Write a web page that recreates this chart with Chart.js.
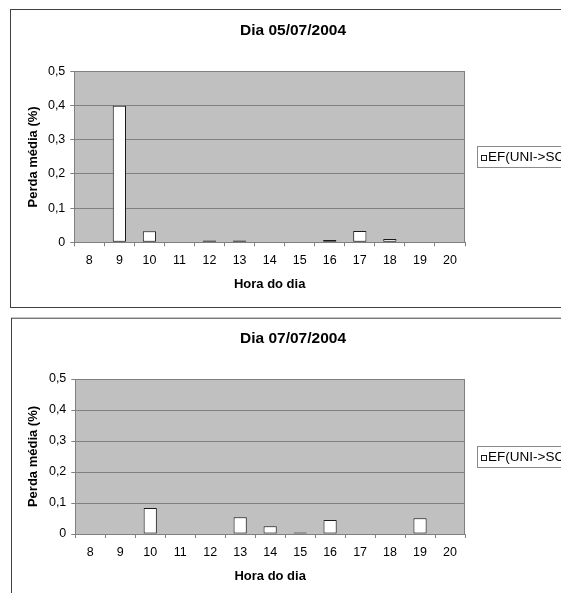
<!DOCTYPE html>
<html>
<head>
<meta charset="utf-8">
<script src="https://cdn.jsdelivr.net/npm/chart.js@4"></script>
<style>
  html, body { margin: 0; padding: 0; background: #fff; overflow: hidden; width: 561px; height: 593px; }
  canvas { position: absolute; left: 0; display: block; }
  #c1 { top: 0; }
  #c2 { top: 310px; }
</style>
</head>
<body>
<canvas id="c1" width="600" height="310"></canvas>
<canvas id="c2" width="600" height="300"></canvas>
<script>
// Hours of the day on the category axis
const hours = ['8', '9', '10', '11', '12', '13', '14', '15', '16', '17', '18', '19', '20'];

// Mean loss (%) per hour, 05/07/2004
const perda0507 = [0, 0.4, 0.032, 0, 0.005, 0.005, 0, 0, 0.007, 0.033, 0.01, 0, 0];

// Mean loss (%) per hour, 07/07/2004
const perda0707 = [0, 0, 0.084, 0, 0, 0.054, 0.025, 0.005, 0.045, 0, 0, 0.051, 0];

// Value axis labels (decimal comma)
const yTickLabels = ['0', '0,1', '0,2', '0,3', '0,4', '0,5'];

const seriesName = 'EF(UNI->SC)';
const chartTitles = ['Dia 05/07/2004', 'Dia 07/07/2004'];
const xAxisTitle = 'Hora do dia';
const yAxisTitle = 'Perda média (%)';

const FONT = "'Liberation Sans', Arial, sans-serif";

// Frame, plot-area fill/border and the boxed legend on the right
const excelLook = {
  id: 'excelLook',
  beforeDraw(chart, args, opts) {
    const ctx = chart.ctx;
    const a = chart.chartArea;
    ctx.save();
    ctx.fillStyle = '#ffffff';
    ctx.fillRect(0, 0, chart.width, chart.height);
    ctx.strokeStyle = '#404040';
    ctx.lineWidth = 1;
    ctx.strokeRect(opts.frameLeft + 0.5, opts.frameTop + 0.5, 1000, opts.frameHeight);
    ctx.fillStyle = '#c0c0c0';
    ctx.fillRect(a.left, a.top, a.right - a.left, a.bottom - a.top);
    ctx.restore();
  },
  afterDraw(chart) {
    const ctx = chart.ctx;
    const a = chart.chartArea;
    const ds = chart.data.datasets[0];
    ctx.save();
    ctx.strokeStyle = '#808080';
    ctx.lineWidth = 1;
    ctx.beginPath();
    ctx.moveTo(Math.round(a.right) - 0.5, a.top);
    ctx.lineTo(Math.round(a.right) - 0.5, a.bottom);
    ctx.stroke();

    // legend box
    const lh = 22;
    const lx = Math.round(a.right + 11.7);
    const cy = (a.top + a.bottom) / 2;
    const ly = Math.round(cy - lh / 2);
    ctx.strokeStyle = '#8a8a8a';
    ctx.strokeRect(lx + 0.5, ly + 0.5, 400, lh - 1);
    // marker
    ctx.fillStyle = ds.backgroundColor;
    ctx.fillRect(lx + 4, Math.round(cy) - 2, 6, 6);
    ctx.strokeStyle = ds.borderColor;
    ctx.strokeRect(lx + 4.5, Math.round(cy) - 1.5, 5, 5);
    // label
    ctx.fillStyle = '#000';
    ctx.font = '13.5px ' + FONT;
    ctx.textAlign = 'left';
    ctx.textBaseline = 'middle';
    ctx.fillText(ds.label, lx + 11, cy + 0.5);
    ctx.restore();
  }
};

function makeChart(id, title, values, g) {
  return new Chart(document.getElementById(id), {
    type: 'bar',
    data: {
      labels: hours,
      datasets: [{
        label: seriesName,
        data: values,
        backgroundColor: '#ffffff',
        borderColor: '#1a1a1a',
        borderWidth: c => (c.raw > 0 ? 1 : 0),
        borderSkipped: false,
        categoryPercentage: 1,
        barPercentage: 0.44
      }]
    },
    options: {
      responsive: false,
      animation: false,
      layout: { padding: { left: 0, right: 14, top: 0, bottom: g.padBottom } },
      plugins: {
        legend: { display: false },
        tooltip: { enabled: false },
        title: {
          display: true,
          text: title,
          color: '#000',
          font: { family: FONT, size: 15.5, weight: 'bold' },
          padding: { top: g.titleTop, bottom: g.titleBottom }
        },
        excelLook: { frameLeft: g.frameLeft, frameTop: g.frameTop, frameHeight: g.frameHeight }
      },
      scales: {
        x: {
          type: 'category',
          offset: true,
          grid: {
            offset: true,
            drawOnChartArea: false,
            drawTicks: true,
            tickLength: 4,
            color: '#808080'
          },
          border: { display: true, color: '#808080' },
          ticks: {
            color: '#000',
            padding: g.xTickPad,
            maxRotation: 0,
            autoSkip: false,
            font: { family: FONT, size: 12.5 }
          },
          title: {
            display: true,
            text: xAxisTitle,
            color: '#000',
            font: { family: FONT, size: 13, weight: 'bold' },
            padding: { top: 0, bottom: g.xTitlePad }
          },
          afterFit: s => { s.height = 60; }
        },
        y: {
          type: 'linear',
          min: 0,
          max: 0.5,
          ticks: {
            stepSize: 0.1,
            color: '#000',
            padding: 5,
            font: { family: FONT, size: 12.5 },
            callback: (v, i) => yTickLabels[i]
          },
          grid: { color: '#808080', tickLength: 4, drawTicks: true },
          border: { display: true, color: '#808080' },
          title: {
            display: true,
            text: yAxisTitle,
            color: '#000',
            font: { family: FONT, size: 13, weight: 'bold' },
            padding: { top: g.yTitlePad, bottom: 0 }
          },
          afterFit: s => { s.width = g.plotLeft; }
        },
        legendArea: {
          type: 'linear',
          position: 'right',
          display: true,
          grid: { display: false },
          border: { display: false },
          ticks: { display: false },
          afterFit: s => { s.width = 121; }
        }
      }
    },
    plugins: [excelLook]
  });
}

makeChart('c1', chartTitles[0], perda0507, {
  frameLeft: 10, frameTop: 9, frameHeight: 298,
  plotLeft: 74.3, padBottom: 7.7,
  titleTop: 21.2, titleBottom: 31.7,
  xTickPad: 7.2, xTitlePad: 10.5, yTitlePad: 25.5
});

makeChart('c2', chartTitles[1], perda0707, {
  frameLeft: 11, frameTop: 7.7, frameHeight: 600,
  plotLeft: 75.3, padBottom: 16,
  titleTop: 19.7, titleBottom: 30.7,
  xTickPad: 7.5, xTitlePad: 9.5, yTitlePad: 26
});
</script>
</body>
</html>
